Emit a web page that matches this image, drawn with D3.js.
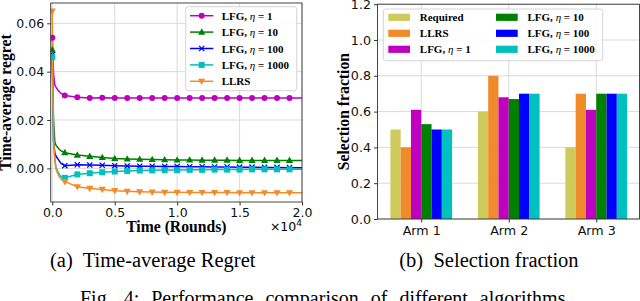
<!DOCTYPE html>
<html><head><meta charset="utf-8">
<script src="https://cdn.jsdelivr.net/npm/d3@7"></script>
<style>body{margin:0;background:#fff}svg{display:block}</style>
</head><body>
<svg id="c" width="640" height="301"></svg>
<script>
// ---------- data: left chart (time-average regret) ----------
const rounds = [0, 50, 100, 200, 300, 500, 700, 1000, 2000, 3000, 4000, 5000, 6000, 7000, 8000, 9000, 10000,
  11000, 12000, 13000, 14000, 15000, 16000, 17000, 18000, 19000, 20000];
const regretEta1 = [0.054, 0.045, 0.039, 0.0345, 0.0335, 0.032, 0.031, 0.0301, 0.0294, 0.0291, 0.0292, 0.0291, 0.0291,
  0.0291, 0.0291, 0.0291, 0.0291, 0.0291, 0.0291, 0.0291, 0.0291, 0.0291, 0.0291, 0.0291, 0.0291, 0.0291, 0.0291];
const regretEta10 = [0.049, 0.03, 0.02, 0.011, 0.0095, 0.0082, 0.0072, 0.0065, 0.0055, 0.005, 0.0045, 0.0041, 0.0039,
  0.0038, 0.0037, 0.0036, 0.0035, 0.0035, 0.0034, 0.0034, 0.0034, 0.0033, 0.0033, 0.0033, 0.0033, 0.0033, 0.0033];
const regretEta100 = [0.047, 0.025, 0.011, 0.0065, 0.005, 0.0035, 0.002, 0.0011, 0.0015, 0.0014, 0.0013, 0.0011, 0.001,
  0.0009, 0.0009, 0.0008, 0.0008, 0.0007, 0.0007, 0.0006, 0.0006, 0.0005, 0.0005, 0.0004, 0.0004, 0.0003, 0.0003];
const regretEta1000 = [0.046, 0.026, 0.012, 0.004, 0.0005, -0.002, -0.0035, -0.0039, -0.0025, -0.002, -0.0016, -0.0013,
  -0.0011, -0.0009, -0.0008, -0.0007, -0.0007, -0.0006, -0.0006, -0.0005, -0.0005, -0.0005, -0.0004, -0.0004, -0.0004, -0.0004, -0.0004];
const regretLLRS = [0.065, 0.03, 0.012, 0.003, -0.0005, -0.003, -0.0045, -0.0055, -0.0076, -0.0083, -0.0087, -0.0092,
  -0.0095, -0.0097, -0.0098, -0.0099, -0.0099, -0.01, -0.01, -0.01, -0.01, -0.0101, -0.0101, -0.0101, -0.0101, -0.0101, -0.0101];
const lineNames = ["LFG, \u03b7 = 1", "LFG, \u03b7 = 10", "LFG, \u03b7 = 100", "LFG, \u03b7 = 1000", "LLRS"];
const xTicksLeft = [0, 5000, 10000, 15000, 20000];
const yTicksLeft = [0, 0.02, 0.04, 0.06];

// ---------- data: right chart (selection fraction) ----------
const arms = ["Arm 1", "Arm 2", "Arm 3"];
const barNames = ["Required", "LLRS", "LFG, \u03b7 = 1", "LFG, \u03b7 = 10", "LFG, \u03b7 = 100", "LFG, \u03b7 = 1000"];
const fracRequired = [0.5, 0.6, 0.4];
const fracLLRS = [0.4, 0.8, 0.7];
const fracEta1 = [0.61, 0.68, 0.61];
const fracEta10 = [0.53, 0.67, 0.70];
const fracEta100 = [0.50, 0.70, 0.70];
const fracEta1000 = [0.50, 0.70, 0.70];
const yTicksRight = [0, 0.2, 0.4, 0.6, 0.8, 1.0, 1.2];

// ---------- styles ----------
const lineColors = ["#bf00bf", "#008000", "#0000ff", "#00bfbf", "#f28b2a"];
const lineMarkers = ["circle", "triUp", "x", "square", "triDown"];
const barColors = ["#cfca5c", "#f08a2a", "#bf00bf", "#008000", "#0000ff", "#00c0c0"];
const tickFont = "'DejaVu Sans', sans-serif";
const serif = "'Liberation Serif', 'Times New Roman', serif";
const gridColor = "#dadada";
const spineColor = "#333";

const svg = d3.select("#c");

function drawMarker(g, type, cx, cy, color) {
  if (type === "circle") {
    g.append("circle").attr("cx", cx).attr("cy", cy).attr("r", 3).attr("fill", color);
  } else if (type === "triUp") {
    g.append("path").attr("d", `M${cx},${cy-3.8}L${cx+3.6},${cy+2.6}L${cx-3.6},${cy+2.6}Z`).attr("fill", color);
  } else if (type === "triDown") {
    g.append("path").attr("d", `M${cx},${cy+3.8}L${cx+3.6},${cy-2.6}L${cx-3.6},${cy-2.6}Z`).attr("fill", color);
  } else if (type === "square") {
    g.append("rect").attr("x", cx-3).attr("y", cy-3).attr("width", 6).attr("height", 6).attr("fill", color);
  } else if (type === "x") {
    g.append("path").attr("d", `M${cx-2.6},${cy-2.6}L${cx+2.6},${cy+2.6}M${cx-2.6},${cy+2.6}L${cx+2.6},${cy-2.6}`)
      .attr("stroke", color).attr("stroke-width", 1.3).attr("fill", "none");
  }
}

function labelWithEta(sel, name) {
  const idx = name.indexOf("\u03b7");
  if (idx < 0) { sel.text(name); return; }
  sel.append("tspan").text(name.slice(0, idx));
  sel.append("tspan").attr("font-style", "italic").attr("font-weight", "normal").text("\u03b7");
  sel.append("tspan").text(name.slice(idx + 1));
}

// ================= LEFT CHART =================
{
  const L = 50.7, R = 302, T = 3, B = 202;
  const x = d3.scaleLinear().domain([-130, 20000]).range([L, R]);
  const y = d3.scaleLinear().domain([-0.0139, 0.0684]).range([B, T]);
  const g = svg.append("g");

  g.append("g").selectAll("line").data(xTicksLeft).join("line")
    .attr("x1", d => x(d)).attr("x2", d => x(d)).attr("y1", T).attr("y2", B)
    .attr("stroke", gridColor).attr("stroke-width", 1);
  g.append("g").selectAll("line").data(yTicksLeft).join("line")
    .attr("x1", L).attr("x2", R).attr("y1", d => y(d)).attr("y2", d => y(d))
    .attr("stroke", gridColor).attr("stroke-width", 1);

  const series = [regretEta1, regretEta10, regretEta100, regretEta1000, regretLLRS];
  const lineGen = d3.line().x((d, i) => x(rounds[i])).y(d => y(d));
  svg.append("clipPath").attr("id", "clipL").append("rect")
    .attr("x", L).attr("y", T).attr("width", R - L).attr("height", B - T);
  const lg = g.append("g").attr("clip-path", "url(#clipL)");
  series.forEach((s, k) => {
    lg.append("path").attr("d", lineGen(s)).attr("fill", "none")
      .attr("stroke", lineColors[k]).attr("stroke-width", 1.5);
  });
  series.forEach((s, k) => {
    s.forEach((v, i) => {
      const t = rounds[i];
      if (t % 1000 === 0 && t < 20000) drawMarker(lg, lineMarkers[k], x(t), y(v), lineColors[k]);
    });
  });

  const xa = g.append("g").attr("transform", `translate(0,${B})`)
    .call(d3.axisBottom(x).tickValues(xTicksLeft).tickSize(3.5).tickPadding(3).tickFormat(d => (d / 10000).toFixed(1)));
  const ya = g.append("g").attr("transform", `translate(${L},0)`)
    .call(d3.axisLeft(y).tickValues(yTicksLeft).tickSize(3.5).tickPadding(3).tickFormat(d3.format(".2f")));
  [xa, ya].forEach(a => {
    a.select(".domain").remove();
    a.selectAll("line").attr("stroke", spineColor);
    a.selectAll("text").attr("font-family", tickFont).attr("font-size", 12.5).attr("fill", "#111");
  });
  g.append("rect").attr("x", L).attr("y", T).attr("width", R - L).attr("height", B - T)
    .attr("fill", "none").attr("stroke", spineColor).attr("stroke-width", 0.9);

  g.append("text").attr("x", (L + R) / 2).attr("y", 232).attr("text-anchor", "middle")
    .attr("font-family", serif).attr("font-weight", "bold").attr("font-size", 15.7).text("Time (Rounds)");
  const sx = g.append("text").attr("x", R).attr("y", 231).attr("text-anchor", "end")
    .attr("font-family", tickFont).attr("font-size", 12.5);
  sx.append("tspan").text("\u00d710");
  sx.append("tspan").attr("dy", -5).attr("font-size", 9).text("4");
  g.append("text").attr("transform", `translate(11,${(T + B) / 2}) rotate(-90)`).attr("text-anchor", "middle")
    .attr("font-family", serif).attr("font-weight", "bold").attr("font-size", 15.7).text("Time-average regret");

  const leg = g.append("g");
  leg.append("rect").attr("x", 185.7).attr("y", 6.7).attr("width", 111).attr("height", 84).attr("rx", 2.5)
    .attr("fill", "#fff").attr("fill-opacity", 0.85).attr("stroke", "#cfcfcf").attr("stroke-width", 0.9);
  lineNames.forEach((n, k) => {
    const cy = 15.7 + k * 16.4;
    leg.append("line").attr("x1", 190).attr("x2", 213.3).attr("y1", cy).attr("y2", cy)
      .attr("stroke", lineColors[k]).attr("stroke-width", 1.5);
    drawMarker(leg, lineMarkers[k], 201.7, cy, lineColors[k]);
    const t = leg.append("text").attr("x", 221.7).attr("y", cy + 4)
      .attr("font-family", serif).attr("font-weight", "bold").attr("font-size", 11);
    labelWithEta(t, n);
  });
}

// ================= RIGHT CHART =================
{
  const L = 377.5, R = 639.5, T = 4.2, B = 219;
  const x = d3.scaleLinear().domain([-0.5, 2.5]).range([L, 640]);
  const y = d3.scaleLinear().domain([0, 1.2]).range([B, T]);
  const g = svg.append("g");
  const armPos = arms.map((a, i) => i);

  g.append("g").selectAll("line").data(armPos).join("line")
    .attr("x1", d => x(d)).attr("x2", d => x(d)).attr("y1", T).attr("y2", B)
    .attr("stroke", gridColor).attr("stroke-width", 1);
  g.append("g").selectAll("line").data(yTicksRight).join("line")
    .attr("x1", L).attr("x2", R).attr("y1", d => y(d)).attr("y2", d => y(d))
    .attr("stroke", gridColor).attr("stroke-width", 1);

  const barSeries = [fracRequired, fracLLRS, fracEta1, fracEta10, fracEta100, fracEta1000];
  const bw = 0.1175;
  barSeries.forEach((s, k) => {
    g.append("g").selectAll("rect").data(s).join("rect")
      .attr("x", (d, i) => x(i + (k - 3) * bw))
      .attr("width", x(bw) - x(0))
      .attr("y", d => y(d)).attr("height", d => y(0) - y(d))
      .attr("fill", barColors[k]);
  });

  const xa = g.append("g").attr("transform", `translate(0,${B})`)
    .call(d3.axisBottom(x).tickValues(armPos).tickSize(3.5).tickPadding(3).tickFormat(i => arms[i]));
  const ya = g.append("g").attr("transform", `translate(${L},0)`)
    .call(d3.axisLeft(y).tickValues(yTicksRight).tickSize(3.5).tickPadding(3).tickFormat(d3.format(".1f")));
  [xa, ya].forEach(a => {
    a.select(".domain").remove();
    a.selectAll("line").attr("stroke", spineColor);
    a.selectAll("text").attr("font-family", tickFont).attr("font-size", 12.7).attr("fill", "#111");
  });
  g.append("rect").attr("x", L).attr("y", T).attr("width", R - L).attr("height", B - T)
    .attr("fill", "none").attr("stroke", spineColor).attr("stroke-width", 0.9);

  g.append("text").attr("transform", `translate(348.5,${(T + B) / 2}) rotate(-90)`).attr("text-anchor", "middle")
    .attr("font-family", serif).attr("font-weight", "bold").attr("font-size", 15.7).text("Selection fraction");

  const leg = g.append("g");
  leg.append("rect").attr("x", 383.3).attr("y", 9).attr("width", 219.4).attr("height", 51.7).attr("rx", 2.5)
    .attr("fill", "#fff").attr("fill-opacity", 0.85).attr("stroke", "#cfcfcf").attr("stroke-width", 0.9);
  barNames.forEach((n, k) => {
    const col = Math.floor(k / 3), row = k % 3;
    const cy = 17.3 + row * 16;
    const px = col === 0 ? 388.3 : 496;
    leg.append("rect").attr("x", px).attr("y", cy - 3.6).attr("width", 21.7).attr("height", 7.2).attr("fill", barColors[k]);
    const t = leg.append("text").attr("x", px + 31.5).attr("y", cy + 4)
      .attr("font-family", serif).attr("font-weight", "bold").attr("font-size", 11);
    labelWithEta(t, n);
  });
}

// ================= CAPTIONS =================
svg.append("text").attr("x", 50).attr("y", 267).attr("font-family", serif).attr("font-size", 20.5)
  .attr("xml:space", "preserve").text("(a)  Time-average Regret");
svg.append("text").attr("x", 399.3).attr("y", 267).attr("font-family", serif).attr("font-size", 20.5)
  .attr("xml:space", "preserve").text("(b)  Selection fraction");
svg.append("text").attr("x", 80).attr("y", 305).attr("font-family", serif).attr("font-size", 20)
  .attr("word-spacing", 7).text("Fig. 4: Performance comparison of different algorithms");
</script>
</body></html>
